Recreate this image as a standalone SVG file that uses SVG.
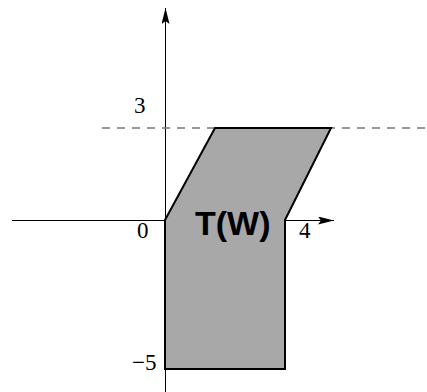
<svg xmlns="http://www.w3.org/2000/svg" width="427" height="392" viewBox="0 0 427 392">
<style>
.lbl{font-family:"Liberation Serif",serif;font-size:23px;fill:#000}
.axis{stroke:#000;stroke-width:1;fill:none}
</style>
<defs>
<marker id="ah" markerWidth="16" markerHeight="8" refX="16" refY="4" orient="auto" markerUnits="userSpaceOnUse">
<path d="M0,0 L16,4 L0,8 L3,4 Z" fill="#000"/>
</marker>
</defs>
<rect width="427" height="392" fill="#fff"/>
<g id="connectors">
<line class="axis" x1="12" y1="220.5" x2="334" y2="220.5" marker-end="url(#ah)"/>
<line class="axis" x1="165.5" y1="392" x2="165.5" y2="8" marker-end="url(#ah)"/>
<line x1="102" y1="128" x2="427" y2="128" stroke="#777" stroke-width="1.3" stroke-dasharray="8,7"/>
</g>
<g id="region">
<polygon points="165,220 215,128 331,128 285,220 285,369 165,369" fill="#a8a8a8" stroke="#000" stroke-width="2" stroke-linejoin="miter"/>
<text x="195" y="235" style="font-family:'Liberation Sans',Arial,sans-serif;font-weight:bold;font-size:34px">T(W)</text>
</g>
<g id="labels">
<text class="lbl" x="134" y="113">3</text>
<text class="lbl" x="137" y="238">0</text>
<text class="lbl" x="299" y="238">4</text>
<text class="lbl" x="132" y="370">−5</text>
</g>
</svg>
